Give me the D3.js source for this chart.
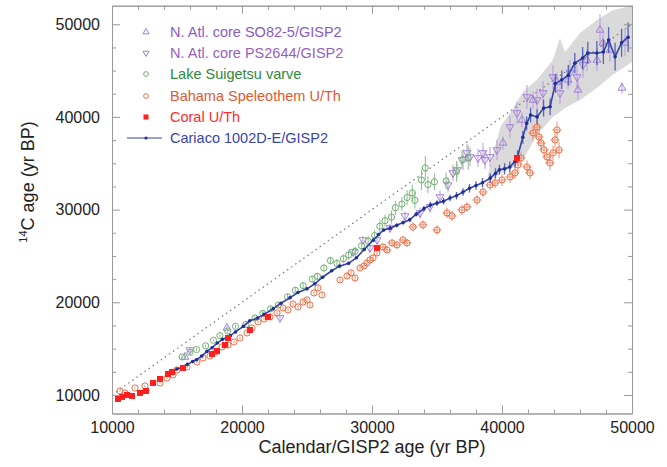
<!DOCTYPE html>
<html>
<head>
<meta charset="utf-8">
<script src="https://cdn.jsdelivr.net/npm/d3@7"></script>
<style>
  body { margin: 0; background: #fff; }
  svg text { font-family: "Liberation Sans", Arial, Helvetica, sans-serif; }
</style>
</head>
<body>
<svg id="chart" width="667" height="467"></svg>
<script>
// Cariaco 1002D-E/GISP2 (calendar age, 14C age, 1 sigma)
const cariacoCal = [14600, 15000, 15400, 15800, 16200, 16500, 16900, 17300, 17700, 18100, 18500, 19100, 19500, 20100, 20600, 21200, 21700, 22400, 23000, 23700, 24300, 25000, 25600, 26200, 26900, 27500, 28200, 28800, 29400, 30100, 30500, 30900, 31400, 31900, 32400, 32900, 33400, 34000, 34500, 35000, 35500, 36000, 36500, 37000, 37500, 38000, 38500, 39100, 39500, 39800, 40200, 40600, 41000, 41200, 41600, 41900, 42200, 42700, 43200, 43700, 44100, 44600, 45100, 45600, 46200, 46600, 47300, 47800, 48200, 48700, 49200, 49700];
const cariaco14C = [12500, 12800, 13000, 13300, 13600, 13800, 14200, 14700, 15100, 15600, 16000, 16400, 16800, 17400, 18000, 18300, 18700, 19300, 19900, 20500, 21050, 21450, 22000, 22700, 23400, 23900, 24200, 24800, 25700, 26700, 27300, 27800, 28000, 28300, 28600, 28900, 29500, 30100, 30500, 30700, 30900, 31250, 31500, 31900, 32300, 32600, 32900, 33400, 33900, 34300, 34400, 34600, 35200, 35700, 37800, 39300, 40200, 40000, 40950, 41100, 43600, 44000, 44500, 45800, 46350, 46900, 46900, 47000, 48300, 46500, 48000, 48600];
const cariacoErr = [100, 100, 100, 100, 100, 100, 100, 100, 100, 100, 100, 100, 100, 100, 100, 100, 100, 100, 100, 100, 100, 100, 100, 100, 100, 100, 100, 100, 100, 150, 150, 150, 200, 200, 200, 250, 250, 300, 300, 300, 350, 350, 400, 400, 450, 450, 500, 500, 550, 550, 600, 600, 650, 700, 700, 750, 800, 800, 900, 900, 1000, 1000, 1100, 1100, 1200, 1200, 1300, 1300, 1400, 1500, 1500, 1600];

// Cariaco uncertainty envelope
const bandCal = [38900, 39400, 39900, 40800, 41600, 42700, 43900, 44460, 44850, 46000, 47300, 48500, 50000];
const bandLow = [33000, 33500, 33900, 34500, 35350, 38050, 40000, 40540, 40970, 41830, 43120, 44530, 45930];
const bandHigh = [33600, 36500, 39000, 40800, 42700, 44000, 46150, 48500, 47000, 49050, 50450, 51500, 52000];

// N. Atl. core SO82-5/GISP2
const so82Cal = [15615, 18846, 40077, 41538, 42385, 44231, 45077, 45846, 46538, 47307, 47538, 47769, 48308, 49231, 49462];
const so8214C = [14100, 17229, 37190, 39672, 41831, 43773, 43989, 42909, 46147, 46147, 49384, 47981, 47226, 43125, 47981];
const so82Err = [200, 200, 700, 800, 900, 1000, 1000, 1100, 1200, 1200, 1700, 1300, 1300, 600, 1400];

// N. Atl. core PS2644/GISP2
const ps2644Cal = [16000, 22923, 28538, 29308, 29846, 30385, 31385, 32538, 33692, 34462, 35231, 35846, 36231, 36538, 36923, 37308, 37538, 38154, 38538, 38692, 39077, 39615, 40615, 41154, 41923, 42692, 43154, 43923, 44462, 45231, 45769, 46231];
const ps264414C = [14856, 18308, 25430, 26725, 25862, 26725, 28019, 29314, 29638, 30285, 31364, 32659, 33954, 34278, 35357, 36112, 35680, 35572, 36112, 35357, 35680, 36436, 38917, 40428, 42154, 41831, 42586, 44312, 42586, 44744, 44312, 45607];
const ps2644Err = [200, 250, 350, 400, 350, 400, 450, 500, 600, 600, 700, 800, 900, 900, 1000, 1000, 1000, 1000, 1100, 1000, 1100, 1100, 1200, 1200, 1300, 1200, 1300, 1300, 1200, 1400, 1300, 1400];

// Lake Suigetsu varve
const suigetsuCal = [15400, 16000, 16500, 17200, 17800, 18300, 18900, 19500, 20300, 21000, 21600, 22200, 22800, 23500, 24100, 24700, 25400, 25800, 26300, 26800, 27300, 27800, 28200, 28700, 29200, 29700, 30200, 30600, 31000, 31500, 31800, 32300, 32700, 33100, 33300, 33800, 34100, 34300, 34800, 35700, 36500, 37000, 37400];
const suigetsu14C = [14100, 14600, 14900, 15300, 15900, 16400, 16900, 17400, 17600, 18300, 18800, 19300, 19700, 20600, 21300, 21800, 22500, 22800, 23700, 24500, 24200, 24700, 25100, 25500, 26100, 26600, 27200, 28200, 28800, 29200, 30200, 30600, 31300, 31800, 31000, 33200, 34500, 32700, 33000, 33100, 34100, 35400, 35600];
const suigetsuErr = [150, 150, 150, 150, 150, 200, 200, 200, 200, 200, 250, 250, 250, 300, 300, 300, 350, 350, 400, 400, 450, 450, 500, 500, 550, 550, 600, 650, 650, 700, 750, 750, 800, 900, 900, 1100, 1300, 900, 900, 900, 1100, 1100, 1300];

// Bahama Speleothem U/Th
const bahamaCal = [10615, 11000, 11769, 12538, 13692, 14231, 14692, 15000, 15769, 16538, 17000, 17538, 18000, 18462, 18923, 19385, 19846, 20385, 20769, 21231, 21692, 22154, 22692, 23154, 23538, 23923, 24308, 24692, 25000, 25231, 25538, 25846, 26154, 27538, 28077, 28385, 28692, 29077, 29385, 29615, 29846, 30077, 30385, 30846, 31154, 31538, 31923, 32385, 32692, 33154, 33923, 35000, 35769, 36154, 36923, 37308, 38077, 38538, 39077, 39462, 40000, 40615, 41000, 41231, 41462, 41923, 42154, 42385, 42692, 42846, 43000, 43231, 43462, 43692, 43923, 44077, 44231, 44385];
const bahama14C = [10432, 10216, 10755, 10971, 11295, 11834, 12158, 12698, 13021, 13561, 13992, 14208, 14640, 15179, 15395, 15719, 16150, 16690, 17229, 17877, 18200, 18416, 18848, 19387, 19172, 19819, 19495, 20035, 20251, 19711, 21006, 21545, 20790, 22409, 22840, 23164, 22624, 23703, 23919, 24243, 24567, 24782, 25322, 25969, 25646, 26401, 26185, 26725, 26401, 28127, 28343, 27804, 29638, 29314, 29962, 30285, 31041, 31904, 32659, 32875, 33199, 33522, 33954, 34817, 35572, 34601, 33954, 38270, 38917, 37838, 37190, 36436, 35680, 35033, 36112, 37514, 38594, 36436];
const bahamaErr = [100, 100, 100, 100, 100, 100, 100, 100, 120, 120, 120, 120, 150, 150, 150, 150, 150, 150, 150, 180, 180, 180, 200, 200, 200, 200, 200, 220, 220, 220, 250, 250, 250, 300, 300, 300, 300, 300, 300, 300, 300, 350, 350, 350, 350, 400, 400, 400, 400, 500, 500, 500, 550, 550, 550, 550, 600, 600, 600, 600, 650, 650, 650, 700, 700, 700, 700, 800, 800, 800, 800, 800, 800, 800, 800, 900, 900, 900];

// Coral U/Th
const coralCal = [10462, 10769, 11154, 11538, 12154, 12615, 13154, 13692, 14308, 14615, 15462, 17692, 18077, 18692, 18923, 20615, 22000, 30385, 41154];
const coral14C = [9568, 9784, 10000, 9892, 10216, 10432, 11295, 11726, 12266, 12482, 12913, 14424, 14748, 15395, 16150, 17014, 18416, 25862, 35572];

const xTicks = [10000, 20000, 30000, 40000, 50000];
const yTicks = [10000, 20000, 30000, 40000, 50000];

const legendLabels = ['N. Atl. core SO82-5/GISP2', 'N. Atl. core PS2644/GISP2', 'Lake Suigetsu varve',
  'Bahama Speleothem U/Th', 'Coral U/Th', 'Cariaco 1002D-E/GISP2'];

const zip = (xs, ys, es) => xs.map((v, i) => ({x: v, y: ys[i], e: es ? es[i] : 0}));

const svg = d3.select('#chart');
const x = d3.scaleLinear().domain([10000, 50000]).range([112, 632]);
const y = d3.scaleLinear().domain([8000, 52000]).range([413.5, 5.7]);

svg.append('defs').append('clipPath').attr('id', 'plot')
  .append('rect').attr('x', 112).attr('y', 5.7).attr('width', 520).attr('height', 407.8);

const plot = svg.append('g').attr('clip-path', 'url(#plot)');

// uncertainty band
const band = bandCal.map((c, i) => ({x: c, lo: bandLow[i], hi: bandHigh[i]}));
plot.append('path')
  .datum(band)
  .attr('fill', '#dadada')
  .attr('d', d3.area().x(d => x(d.x)).y0(d => y(d.lo)).y1(d => y(d.hi)));

// 1:1 line
plot.append('line')
  .attr('x1', x(10000)).attr('y1', y(10000))
  .attr('x2', x(50000)).attr('y2', y(50000))
  .attr('stroke', '#777').attr('stroke-width', 1.2).attr('stroke-dasharray', '1.5,3.5');

function errorBars(data, color, width) {
  plot.append('g').selectAll('line').data(data).enter().append('line')
    .attr('x1', d => x(d.x)).attr('x2', d => x(d.x))
    .attr('y1', d => y(d.y - d.e)).attr('y2', d => y(d.y + d.e))
    .attr('stroke', color).attr('stroke-width', width || 1);
}

function openMarkers(data, symbolType, size, color, rotate) {
  plot.append('g').selectAll('path').data(data).enter().append('path')
    .attr('d', d3.symbol().type(symbolType).size(size))
    .attr('transform', d => `translate(${x(d.x)},${y(d.y)})` + (rotate ? ' rotate(180)' : ''))
    .attr('fill', 'none').attr('stroke', color).attr('stroke-width', 1);
}

// N. Atl. cores
const so82 = zip(so82Cal, so8214C, so82Err);
const ps2644 = zip(ps2644Cal, ps264414C, ps2644Err);
errorBars(so82, '#b79ae0');
errorBars(ps2644, '#b79ae0');
openMarkers(so82, d3.symbolTriangle, 26, '#a27fd6');
openMarkers(ps2644, d3.symbolTriangle, 26, '#a27fd6', true);

// Lake Suigetsu
const suigetsu = zip(suigetsuCal, suigetsu14C, suigetsuErr);
errorBars(suigetsu, '#8cbf8c');
openMarkers(suigetsu, d3.symbolCircle, 30, '#6fae6f');

// Bahama speleothem (horizontal error bars on the older part)
const bahama = zip(bahamaCal, bahama14C, bahamaErr);
errorBars(bahama, '#f19070');
plot.append('g').selectAll('line').data(bahama.filter(d => d.x > 30500)).enter().append('line')
  .attr('x1', d => x(d.x - 350)).attr('x2', d => x(d.x + 350))
  .attr('y1', d => y(d.y)).attr('y2', d => y(d.y))
  .attr('stroke', '#f19070').attr('stroke-width', 1);
openMarkers(bahama, d3.symbolCircle, 30, '#ec7048');

// Cariaco
const cariaco = zip(cariacoCal, cariaco14C, cariacoErr);
errorBars(cariaco, '#5563b8', 1.3);
plot.append('path')
  .datum(cariaco)
  .attr('fill', 'none').attr('stroke', '#3444a8').attr('stroke-width', 1.6)
  .attr('d', d3.line().x(d => x(d.x)).y(d => y(d.y)));
plot.append('g').selectAll('circle').data(cariaco).enter().append('circle')
  .attr('cx', d => x(d.x)).attr('cy', d => y(d.y)).attr('r', 1.8)
  .attr('fill', '#1f2f98');

// Coral
plot.append('g').selectAll('rect').data(zip(coralCal, coral14C)).enter().append('rect')
  .attr('x', d => x(d.x) - 3).attr('y', d => y(d.y) - 3)
  .attr('width', 6).attr('height', 6).attr('fill', '#ff1f1f');

// axes with inward ticks
function styleAxis(g) {
  g.select('.domain').attr('stroke', '#9a9a9a');
  g.selectAll('.tick line').attr('stroke', '#9a9a9a');
  g.selectAll('.tick text').attr('fill', '#222').style('font-size', '16px');
}
const xMinor = d3.range(12000, 50000, 2000).filter(v => v % 10000);
const yMinor = d3.range(12500, 50000, 2500).filter(v => v % 10000);

svg.append('g').attr('transform', 'translate(0,413.5)')
  .call(d3.axisBottom(x).tickValues(xTicks).tickFormat(d3.format('d')).tickSizeInner(-8).tickSizeOuter(0).tickPadding(8))
  .call(styleAxis);
svg.append('g').attr('transform', 'translate(0,413.5)')
  .call(d3.axisBottom(x).tickValues(xMinor).tickFormat('').tickSizeInner(-4).tickSizeOuter(0))
  .call(styleAxis);
svg.append('g').attr('transform', 'translate(0,5.7)')
  .call(d3.axisTop(x).tickValues(xTicks).tickFormat('').tickSizeInner(-8).tickSizeOuter(0))
  .call(styleAxis);
svg.append('g').attr('transform', 'translate(0,5.7)')
  .call(d3.axisTop(x).tickValues(xMinor).tickFormat('').tickSizeInner(-4).tickSizeOuter(0))
  .call(styleAxis);
svg.append('g').attr('transform', 'translate(112,0)')
  .call(d3.axisLeft(y).tickValues(yTicks).tickFormat(d3.format('d')).tickSizeInner(-8).tickSizeOuter(0).tickPadding(12))
  .call(styleAxis);
svg.append('g').attr('transform', 'translate(112,0)')
  .call(d3.axisLeft(y).tickValues(yMinor).tickFormat('').tickSizeInner(-4).tickSizeOuter(0))
  .call(styleAxis);
svg.append('g').attr('transform', 'translate(632,0)')
  .call(d3.axisRight(y).tickValues(yTicks).tickFormat('').tickSizeInner(-8).tickSizeOuter(0))
  .call(styleAxis);
svg.append('g').attr('transform', 'translate(632,0)')
  .call(d3.axisRight(y).tickValues(yMinor).tickFormat('').tickSizeInner(-4).tickSizeOuter(0))
  .call(styleAxis);

// axis titles
svg.append('text')
  .attr('x', 372).attr('y', 453)
  .attr('text-anchor', 'middle').style('font-size', '18px').attr('fill', '#222')
  .text('Calendar/GISP2 age  (yr BP)');
const yTitle = svg.append('text')
  .attr('transform', 'translate(34,182) rotate(-90)')
  .attr('text-anchor', 'middle').style('font-size', '18px').attr('fill', '#222');
yTitle.append('tspan').style('font-size', '11px').attr('dy', '-7').text('14');
yTitle.append('tspan').attr('dy', '7').text('C age (yr BP)');

// legend
const legendColors = ['#8a5cc4', '#955fc2', '#2f8a3c', '#de5a30', '#ff2a2a', '#3746a6'];
const legendMarkColors = ['#a27fd6', '#a27fd6', '#6fae6f', '#ec7048', '#ff1f1f', '#1f2f98'];
const legendY = [32, 53, 74, 96, 117, 138];
const legend = svg.append('g');
legendLabels.forEach((label, i) => {
  const ly = legendY[i];
  legend.append('text')
    .attr('x', 170).attr('y', ly + 5)
    .style('font-size', '14.5px').attr('fill', legendColors[i])
    .text(label);
  if (i < 4) {
    legend.append('path')
      .attr('d', d3.symbol().type(i < 2 ? d3.symbolTriangle : d3.symbolCircle).size(i < 2 ? 16 : 18))
      .attr('transform', `translate(146,${ly})` + (i === 1 ? ' rotate(180)' : ''))
      .attr('fill', 'none').attr('stroke', legendMarkColors[i]).attr('stroke-width', 1);
  } else if (i === 4) {
    legend.append('rect').attr('x', 143.5).attr('y', ly - 2.5).attr('width', 5).attr('height', 5)
      .attr('fill', legendMarkColors[i]);
  } else {
    legend.append('line').attr('x1', 127).attr('x2', 162).attr('y1', ly).attr('y2', ly)
      .attr('stroke', '#3444a8').attr('stroke-width', 1.2);
    legend.append('circle').attr('cx', 146).attr('cy', ly).attr('r', 1.6).attr('fill', legendMarkColors[i]);
  }
});
</script>
</body>
</html>
